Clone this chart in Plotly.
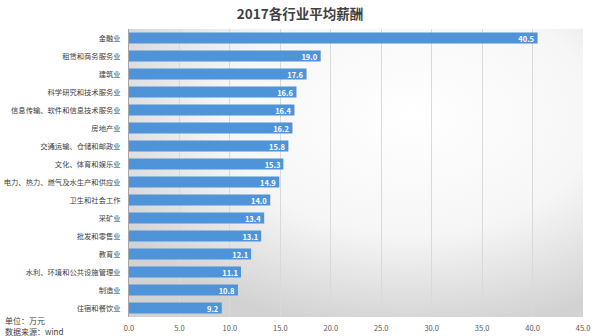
import plotly.graph_objects as go

# Average salary by industry, 2017 (unit: 10k CNY)
industries = [
    "金融业", "租赁和商务服务业", "建筑业", "科学研究和技术服务业",
    "信息传输、软件和信息技术服务业", "房地产业", "交通运输、仓储和邮政业",
    "文化、体育和娱乐业", "电力、热力、燃气及水生产和供应业", "卫生和社会工作",
    "采矿业", "批发和零售业", "教育业", "水利、环境和公共设施管理业",
    "制造业", "住宿和餐饮业",
]
salaries = [40.5, 19.0, 17.6, 16.6, 16.4, 16.2, 15.8, 15.3, 14.9, 14.0,
            13.4, 13.1, 12.1, 11.1, 10.8, 9.2]
x_ticks = [0, 5, 10, 15, 20, 25, 30, 35, 40, 45]

FONT = "Noto Sans CJK SC"

# soft radial background: white centre fading to grey at the edges
bg_svg = (
    "data:image/svg+xml;utf8,"
    "<svg xmlns='http://www.w3.org/2000/svg' width='600' height='336'>"
    "<defs><radialGradient id='g' cx='62%' cy='30%' r='75%'>"
    "<stop offset='0%' stop-color='%23ffffff'/>"
    "<stop offset='55%' stop-color='%23f6f6f6'/>"
    "<stop offset='100%' stop-color='%23d2d2d2'/>"
    "</radialGradient></defs>"
    "<rect width='600' height='336' fill='url(%23g)'/></svg>"
)

fig = go.Figure(
    go.Bar(
        x=salaries,
        y=industries,
        orientation="h",
        marker=dict(color="#4f94d8", line=dict(width=0)),
        text=[f"{v:.1f}" for v in salaries],
        textposition="inside",
        insidetextanchor="end",
        constraintext="none",
        textfont=dict(family=FONT, size=7.5, color="#ffffff", weight="bold"),
        cliponaxis=False,
    )
)

fig.update_layout(
    width=600,
    height=336,
    margin=dict(l=129, r=17, t=29, b=19, autoexpand=False),
    paper_bgcolor="rgba(0,0,0,0)",
    plot_bgcolor="rgba(0,0,0,0)",
    bargap=0.38,
    showlegend=False,
    images=[dict(source=bg_svg, xref="paper", yref="paper", x=0, y=1,
                 sizex=1, sizey=1, sizing="stretch", layer="below")],
    title=dict(text="<b>2017各行业平均薪酬</b>", x=0.5, xanchor="center",
               y=0.958, yanchor="middle",
               font=dict(family=FONT, size=13.5, color="#404040")),
    xaxis=dict(range=[0, 45], tickvals=x_ticks,
               ticktext=[f"{t:.1f}" for t in x_ticks],
               showgrid=True, gridcolor="#d9d9d9", gridwidth=1,
               zeroline=False, showline=False, ticks="", automargin=False,
               ticklabelstandoff=5,
               tickfont=dict(family=FONT, size=7.5, color="#595959")),
    yaxis=dict(categoryorder="array", categoryarray=industries,
               autorange="reversed", showgrid=False, showline=True,
               linecolor="#a6a6a6", linewidth=1, ticks="", ticklen=0,
               automargin=False, ticklabelstandoff=6,
               tickfont=dict(family=FONT, size=7.3, color="#404040")),
    annotations=[
        dict(text="单位：万元", xref="paper", yref="paper", x=-0.2775, y=-0.012,
             xanchor="left", yanchor="middle", showarrow=False,
             font=dict(family=FONT, size=8, color="#404040")),
        dict(text="数据来源：wind", xref="paper", yref="paper", x=-0.2775,
             y=-0.052, xanchor="left", yanchor="middle", showarrow=False,
             font=dict(family=FONT, size=8, color="#404040")),
    ],
)

fig.write_html("out.html")
